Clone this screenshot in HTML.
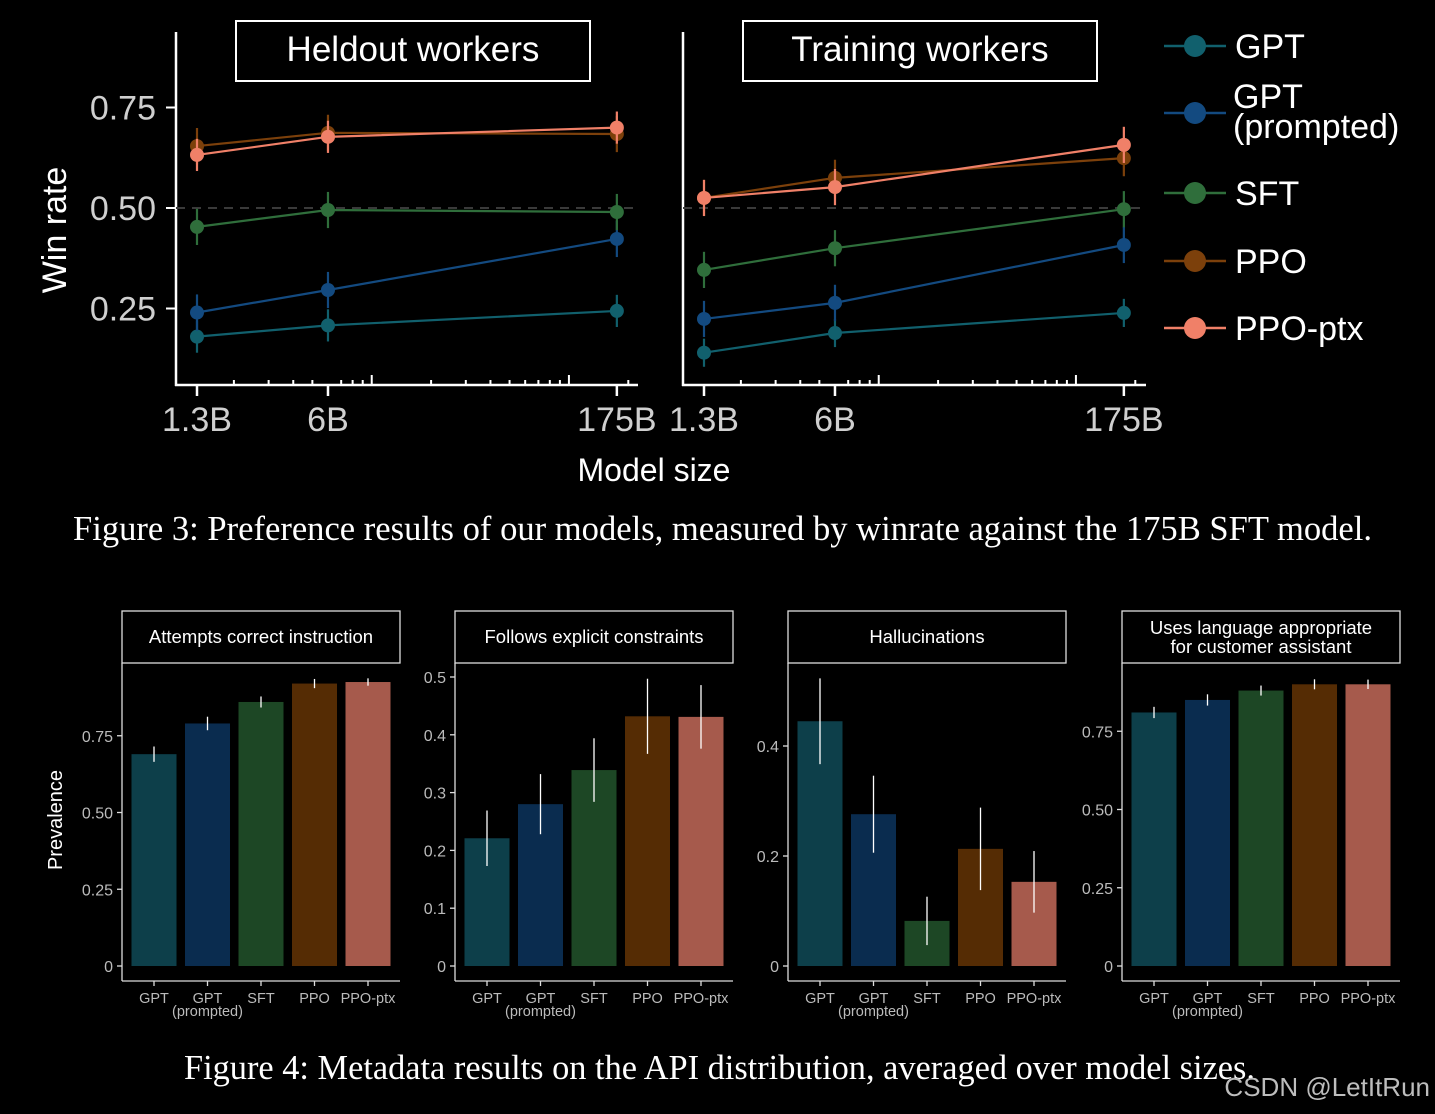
<!DOCTYPE html>
<html><head><meta charset="utf-8"><style>
html,body{margin:0;padding:0;background:#000;width:1435px;height:1114px;overflow:hidden}
svg text{font-family:"Liberation Sans",sans-serif}
svg text.serif{font-family:"Liberation Serif",serif}
</style></head><body>
<svg id="s" width="1435" height="1114" xmlns="http://www.w3.org/2000/svg">
<rect width="1435" height="1114" fill="#000"/>
</svg>
<script>
// ---- Figure 3 data ----
const sizes = [1.3, 6, 175];
const sizeLabels = ["1.3B", "6B", "175B"];
const seriesNames = ["GPT", "GPT (prompted)", "SFT", "PPO", "PPO-ptx"];
const heldGPT = [0.18, 0.208, 0.244];
const heldGPTp = [0.24, 0.296, 0.423];
const heldSFT = [0.453, 0.495, 0.49];
const heldPPO = [0.654, 0.687, 0.684];
const heldPPOptx = [0.632, 0.677, 0.70];
const heldErr = [0.04, 0.045, 0.045, 0.045, 0.04];
const trainGPT = [0.14, 0.189, 0.239];
const trainGPTp = [0.224, 0.264, 0.408];
const trainSFT = [0.346, 0.40, 0.497];
const trainPPO = [0.525, 0.575, 0.624];
const trainPPOptx = [0.525, 0.552, 0.657];
const trainErr = [0.035, 0.045, 0.045, 0.045, 0.045];
const yTicks = [0.25, 0.5, 0.75];
// ---- Figure 4 data ----
const barCats = ["GPT", "GPT", "SFT", "PPO", "PPO-ptx"];
const panelTitles = [["Attempts correct instruction"], ["Follows explicit constraints"], ["Hallucinations"], ["Uses language appropriate", "for customer assistant"]];
const attemptsVals = [0.69, 0.79, 0.86, 0.92, 0.925];
const attemptsErr = [0.025, 0.022, 0.018, 0.015, 0.012];
const constraintsVals = [0.221, 0.28, 0.339, 0.432, 0.431];
const constraintsErr = [0.048, 0.052, 0.055, 0.065, 0.055];
const halluVals = [0.445, 0.276, 0.082, 0.213, 0.153];
const halluErr = [0.078, 0.07, 0.044, 0.075, 0.056];
const languageVals = [0.81, 0.85, 0.88, 0.90, 0.90];
const languageErr = [0.018, 0.018, 0.016, 0.016, 0.015];
const attemptsTicks = [0, 0.25, 0.5, 0.75];
const constraintsTicks = [0, 0.1, 0.2, 0.3, 0.4, 0.5];
const halluTicks = [0, 0.2, 0.4];
const languageTicks = [0, 0.25, 0.5, 0.75];

const NS = "http://www.w3.org/2000/svg";
const svg = document.getElementById("s");
function mk(tag, at, parent) {
  const e = document.createElementNS(NS, tag);
  for (const k in at) e.setAttribute(k, at[k]);
  (parent || svg).appendChild(e);
  return e;
}
function txt(x, y, s, size, fill, anchor, parent) {
  const t = mk("text", {x: x, y: y, "font-size": size, fill: fill, "text-anchor": anchor || "middle"}, parent);
  t.textContent = s;
  return t;
}
const pointColors = ["#11606d", "#134a80", "#2f6e3b", "#7c400b", "#f08068"];
const barColors = ["#0d3f4a", "#0a2c4f", "#1d4725", "#552c04", "#a65a4c"];

// ---- line charts ----
function yLine(v) { return 208 - (v - 0.5) * 402; }
function lineChart(x0, x1, title, series, errs, key, showTicks) {
  const g = mk("g", {});
  
  
  const xs = (s) => (x0 + 21) + 197.2 * Math.log10(s / 1.3);
  mk("line", {x1: x0, y1: 32, x2: x0, y2: 386, stroke: "#fff", "stroke-width": 2.5}, g);
  mk("line", {x1: x0 - 1, y1: 385, x2: x1, y2: 385, stroke: "#fff", "stroke-width": 2.5}, g);
  mk("line", {x1: x0, y1: yLine(0.5), x2: x1, y2: yLine(0.5), stroke: "#3a3a3a", "stroke-width": 2, "stroke-dasharray": "9,7"}, g);
  if (showTicks) yTicks.forEach(v => {
    mk("line", {x1: x0 - 10, y1: yLine(v), x2: x0, y2: yLine(v), stroke: "#fff", "stroke-width": 2}, g);
  });
  const minors = [2,3,4,5,7,8,9,10,20,30,40,50,60,70,80,90,100,200];
  minors.forEach(m => {
    const big = (m === 10 || m === 100);
    const x = xs(m);
    if (x > x1) return;
    mk("line", {x1: x, y1: 385, x2: x, y2: big ? 375 : 380, stroke: "#fff", "stroke-width": 2}, g);
  });
  sizes.forEach((s, i) => {
    mk("line", {x1: xs(s), y1: 385, x2: xs(s), y2: 396, stroke: "#fff", "stroke-width": 2.5}, g);
    const t = txt(xs(s), 431, sizeLabels[i], 34, "#cfcfcf", "middle", g);
    
    
  });
  const tb = mk("rect", {x: x0 + 60, y: 21, width: 354, height: 60, fill: "none", stroke: "#fff", "stroke-width": 2}, g);
  
  
  const tt = txt(x0 + 237, 61, title, 35, "#fff", "middle", g);
  
  
  series.forEach((vals, si) => {
    const col = pointColors[si];
    const pts = vals.map((v, i) => xs(sizes[i]) + "," + yLine(v)).join(" ");
    const pl = mk("polyline", {points: pts, fill: "none", stroke: col, "stroke-width": 2.2}, g);
    
    
    vals.forEach((v, i) => {
      const x = xs(sizes[i]);
      mk("line", {x1: x, y1: yLine(v + errs[si]), x2: x, y2: yLine(v - errs[si]), stroke: col, "stroke-width": 2.2}, g);
      const c = mk("circle", {cx: x, cy: yLine(v), r: 7, fill: col}, g);
      
      
    });
  });
}
lineChart(176, 638, "Heldout workers", [heldGPT, heldGPTp, heldSFT, heldPPO, heldPPOptx], heldErr, "heldout", true);
lineChart(683, 1146, "Training workers", [trainGPT, trainGPTp, trainSFT, trainPPO, trainPPOptx], trainErr, "training", false);
// y tick labels left
yTicks.forEach(v => {
  const t = txt(156, yLine(v) + 12, v.toFixed(2), 34, "#cfcfcf", "end");
  
  
});
const yl = txt(0, 0, "Win rate", 34, "#fff", "middle");
yl.setAttribute("transform", "translate(66,230) rotate(-90)");


const xl = txt(654, 481, "Model size", 32, "#fff", "middle");


// legend
const legY = [46, 113, 193, 261, 328];
const legLabels = [["GPT"], ["GPT", "(prompted)"], ["SFT"], ["PPO"], ["PPO-ptx"]];
legLabels.forEach((lab, i) => {
  const g = mk("g", {});
  
  
  mk("line", {x1: 1164, y1: legY[i], x2: 1226, y2: legY[i], stroke: pointColors[i], "stroke-width": 2.5}, g);
  mk("circle", {cx: 1195, cy: legY[i], r: 11, fill: pointColors[i]}, g);
  if (lab.length === 1) txt(1235, legY[i] + 12, lab[0], 34, "#fff", "start", g);
  else { txt(1233, legY[i] - 5, lab[0], 34, "#fff", "start", g); txt(1233, legY[i] + 25, lab[1], 34, "#fff", "start", g); }
});
const cap3 = mk("text", {x: 73, y: 540, "font-size": 34.5, fill: "#fff", "text-anchor": "start", "class": "serif", textLength: 1299, lengthAdjust: "spacingAndGlyphs"});
cap3.textContent = "Figure 3: Preference results of our models, measured by winrate against the 175B SFT model.";



// ---- bar charts ----
function barPanel(px, idx, vals, errs, ticks, ymaxPx) {
  const g = mk("g", {});
  
  
  const y0 = 966;
  const ys = (v) => y0 - v * ymaxPx;
  mk("rect", {x: px, y: 611, width: 278, height: 52, fill: "none", stroke: "#ddd", "stroke-width": 1.3}, g);
  const lines = panelTitles[idx];
  if (lines.length === 1) txt(px + 139, 643, lines[0], 18.5, "#fff", "middle", g);
  else { txt(px + 139, 634, lines[0], 18.5, "#fff", "middle", g); txt(px + 139, 653, lines[1], 18.5, "#fff", "middle", g); }
  mk("line", {x1: px, y1: 663, x2: px, y2: 981, stroke: "#ddd", "stroke-width": 1.3}, g);
  mk("line", {x1: px, y1: 981, x2: px + 278, y2: 981, stroke: "#ddd", "stroke-width": 1.3}, g);
  ticks.forEach(v => {
    mk("line", {x1: px - 5, y1: ys(v), x2: px, y2: ys(v), stroke: "#ddd", "stroke-width": 1.3}, g);
    const lab = v === 0 ? "0" : (ticks.length > 4 || idx === 2 ? v.toFixed(1) : v.toFixed(2));
    txt(px - 9, ys(v) + 6, lab, 16, "#bbb", "end", g);
  });
  vals.forEach((v, i) => {
    const cx = px + 32 + i * 53.5;
    const b = mk("rect", {x: cx - 22.5, y: ys(v), width: 45, height: y0 - ys(v), fill: barColors[i]}, g);
    
    
    mk("line", {x1: cx, y1: ys(v + errs[i]), x2: cx, y2: ys(v - errs[i]), stroke: "#fff", "stroke-width": 1.3}, g);
    mk("line", {x1: cx, y1: 981, x2: cx, y2: 986, stroke: "#ddd", "stroke-width": 1.3}, g);
    txt(cx, 1003, barCats[i], 14.5, "#bbb", "middle", g);
    if (i === 1) txt(cx, 1016, "(prompted)", 14.5, "#bbb", "middle", g);
  });
}
barPanel(122, 0, attemptsVals, attemptsErr, attemptsTicks, 307);
barPanel(455, 1, constraintsVals, constraintsErr, constraintsTicks, 578);
barPanel(788, 2, halluVals, halluErr, halluTicks, 550);
barPanel(1122, 3, languageVals, languageErr, languageTicks, 313);
const pl = txt(0, 0, "Prevalence", 20, "#fff", "middle");
pl.setAttribute("transform", "translate(62,820) rotate(-90)");


const cap4 = mk("text", {x: 184, y: 1079, "font-size": 34.5, fill: "#fff", "text-anchor": "start", "class": "serif", textLength: 1071, lengthAdjust: "spacingAndGlyphs"});
cap4.textContent = "Figure 4: Metadata results on the API distribution, averaged over model sizes.";


const wm = txt(1430, 1096, "CSDN @LetItRun", 26, "#bdbdbd", "end");


</script>
</body></html>
